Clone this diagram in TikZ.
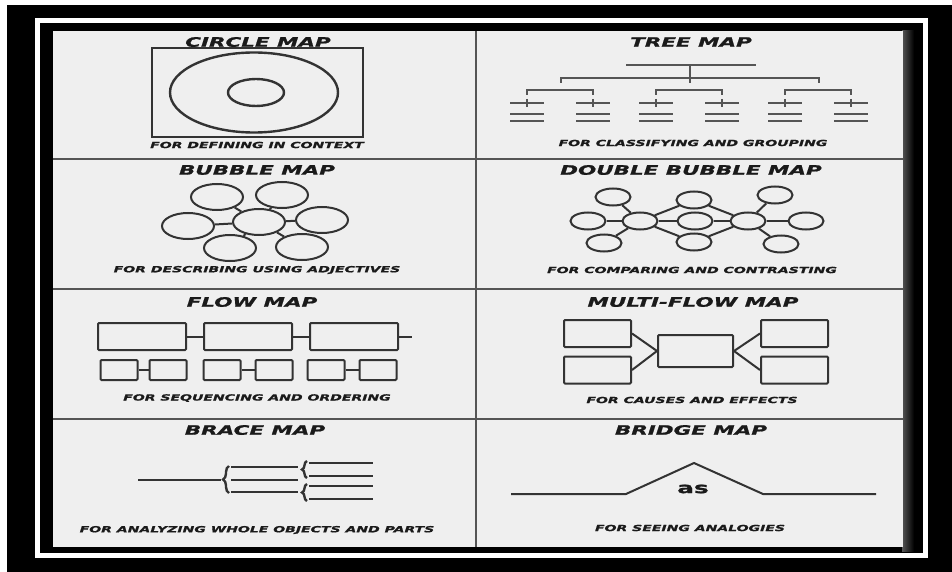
\documentclass[tikz,border=0pt]{standalone}
\usepackage{fontspec}
\usepackage{tikz}
\usetikzlibrary{positioning,shapes.geometric,decorations.pathreplacing}
\newfontfamily\mapfont{DejaVu Sans}[FakeStretch=1.65, FakeBold=1.2]
\definecolor{mapink}{HTML}{333333}
\definecolor{maptext}{HTML}{1A1A1A}
\definecolor{mappaper}{HTML}{EFEFEF}
\definecolor{mapgrid}{HTML}{555555}

\begin{document}
\begin{tikzpicture}[x=1pt, y=-1pt,
  maptitle/.style={font=\mapfont\bfseries\itshape\fontsize{13}{15}\selectfont, text=maptext, inner sep=0pt},
  mapnote/.style={font=\mapfont\bfseries\itshape\fontsize{8.5}{10}\selectfont, text=maptext, inner sep=0pt},
  mapline/.style={draw=mapink, line width=2pt},
  treeline/.style={draw=mapgrid, line width=1.5pt},
  bubble/.style={mapline, ellipse, inner sep=0pt, minimum width=52pt, minimum height=26pt},
  smallbubble/.style={mapline, ellipse, inner sep=0pt, minimum width=35pt, minimum height=17pt},
  flowbox/.style={mapline, rectangle, rounded corners=1pt, inner sep=0pt}]

  % Frame
  \useasboundingbox (0,0) rectangle (952,572);
  \fill[white] (0,0) rectangle (952,572);
  \fill[black] (7,5) rectangle (952,572);
  \draw[white, line width=5pt] (37,21) rectangle (925,555.5);
  \shade[left color=mapgrid, right color=black] (902,31) rectangle (914,551);
  \fill[mappaper] (53,31) rectangle (903,547);

  % Grid
  \draw[mapgrid, line width=2pt] (476,31) -- (476,547);
  \draw[mapgrid, line width=2pt] (53,159) -- (903,159);
  \draw[mapgrid, line width=2pt] (53,289) -- (903,289);
  \draw[mapgrid, line width=2pt] (53,419) -- (903,419);

  % Circle map
  \node[maptitle] (tcircle) at (258,42) {CIRCLE MAP};
  \node[mapline, rectangle, line width=2.4pt, minimum width=211pt, minimum height=89pt]
    (cbox) at (257.5,92.5) {};
  \node[mapline, ellipse, line width=2.4pt, minimum width=168pt, minimum height=80pt]
    (couter) at (254,92.5) {};
  \node[mapline, ellipse, line width=2.4pt, minimum width=56pt, minimum height=27pt]
    (cinner) at (256,92.5) {};
  \node[mapnote] (ncircle) at (257,145) {FOR DEFINING IN CONTEXT};

  % Tree map
  \node[maptitle] (ttree) at (691,42) {TREE MAP};
  \draw[treeline] (626,65) -- (756,65);
  \draw[treeline] (690,65) -- (690,83);
  \draw[treeline] (561,83) -- (561,78) -- (819,78) -- (819,83);
  \draw[treeline] (527,95) -- (527,90) -- (593,90) -- (593,95);
  \draw[treeline] (656,95) -- (656,90) -- (722,90) -- (722,95);
  \draw[treeline] (785,95) -- (785,90) -- (851,90) -- (851,95);
  \draw[treeline] (510,103) -- (544,103) (527,99) -- (527,107)
    (510,114) -- (544,114) (510,121) -- (544,121);
  \draw[treeline] (576,103) -- (610,103) (593,99) -- (593,107)
    (576,114) -- (610,114) (576,121) -- (610,121);
  \draw[treeline] (639,103) -- (673,103) (656,99) -- (656,107)
    (639,114) -- (673,114) (639,121) -- (673,121);
  \draw[treeline] (705,103) -- (739,103) (722,99) -- (722,107)
    (705,114) -- (739,114) (705,121) -- (739,121);
  \draw[treeline] (768,103) -- (802,103) (785,99) -- (785,107)
    (768,114) -- (802,114) (768,121) -- (802,121);
  \draw[treeline] (834,103) -- (868,103) (851,99) -- (851,107)
    (834,114) -- (868,114) (834,121) -- (868,121);
  \node[mapnote] (ntree) at (693,143) {FOR CLASSIFYING AND GROUPING};

  % Bubble map
  \node[maptitle] (tbubble) at (257,170) {BUBBLE MAP};
  \node[bubble] (bcore) at (259,222) {};
  \node[bubble] (bnw) at (217,197) {};
  \node[bubble] (bne) at (282,195) {};
  \node[bubble] (bw) at (188,226) {};
  \node[bubble] (be) at (322,220) {};
  \node[bubble] (bsw) at (230,248) {};
  \node[bubble] (bse) at (302,247) {};
  \draw[mapline] (bcore) -- (bnw);
  \draw[mapline] (bcore) -- (bne);
  \draw[mapline] (bcore) -- (bw);
  \draw[mapline] (bcore) -- (be);
  \draw[mapline] (bcore) -- (bsw);
  \draw[mapline] (bcore) -- (bse);
  \node[mapnote] (nbubble) at (257,270) {FOR DESCRIBING USING ADJECTIVES};

  % Double bubble map
  \node[maptitle] (tdouble) at (691,170) {DOUBLE BUBBLE MAP};
  \node[smallbubble] (dleft) at (640,221) {};
  \node[smallbubble] (dlt) at (613,197) {};
  \node[smallbubble] (dll) at (588,221) {};
  \node[smallbubble] (dlb) at (604,243) {};
  \node[smallbubble] (dmt) at (694,200) {};
  \node[smallbubble] (dmc) at (695,221) {};
  \node[smallbubble] (dmb) at (694,242) {};
  \node[smallbubble] (dright) at (748,221) {};
  \node[smallbubble] (drt) at (775,195) {};
  \node[smallbubble] (drr) at (806,221) {};
  \node[smallbubble] (drb) at (781,244) {};
  \draw[mapline] (dleft) -- (dlt);
  \draw[mapline] (dleft) -- (dll);
  \draw[mapline] (dleft) -- (dlb);
  \draw[mapline] (dleft) -- (dmt);
  \draw[mapline] (dleft) -- (dmc);
  \draw[mapline] (dleft) -- (dmb);
  \draw[mapline] (dright) -- (dmt);
  \draw[mapline] (dright) -- (dmc);
  \draw[mapline] (dright) -- (dmb);
  \draw[mapline] (dright) -- (drt);
  \draw[mapline] (dright) -- (drr);
  \draw[mapline] (dright) -- (drb);
  \node[mapnote] (ndouble) at (692,270) {FOR COMPARING AND CONTRASTING};

  % Flow map
  \node[maptitle] (tflow) at (252,302) {FLOW MAP};
  \node[flowbox, minimum width=88pt, minimum height=27pt] (fa) at (142,336.5) {};
  \node[flowbox, minimum width=88pt, minimum height=27pt] (fb) at (248,336.5) {};
  \node[flowbox, minimum width=88pt, minimum height=27pt] (fc) at (354,336.5) {};
  \coordinate (ftail) at (412,336.5);
  \draw[mapline] (fa) -- (fb);
  \draw[mapline] (fb) -- (fc);
  \draw[mapline] (fc) -- (ftail);
  \node[flowbox, minimum width=37pt, minimum height=20pt] (f1) at (119,370) {};
  \node[flowbox, minimum width=37pt, minimum height=20pt] (f2) at (168,370) {};
  \node[flowbox, minimum width=37pt, minimum height=20pt] (f3) at (222,370) {};
  \node[flowbox, minimum width=37pt, minimum height=20pt] (f4) at (274,370) {};
  \node[flowbox, minimum width=37pt, minimum height=20pt] (f5) at (326,370) {};
  \node[flowbox, minimum width=37pt, minimum height=20pt] (f6) at (378,370) {};
  \draw[mapline] (f1) -- (f2);
  \draw[mapline] (f3) -- (f4);
  \draw[mapline] (f5) -- (f6);
  \node[mapnote] (nflow) at (257,398) {FOR SEQUENCING AND ORDERING};

  % Multi-flow map
  \node[maptitle] (tmulti) at (693,302) {MULTI-FLOW MAP};
  \node[flowbox, minimum width=67pt, minimum height=27pt] (mlt) at (597.5,333.5) {};
  \node[flowbox, minimum width=67pt, minimum height=27pt] (mlb) at (597.5,370) {};
  \node[flowbox, minimum width=75pt, minimum height=32pt] (mevent) at (695.5,351) {};
  \node[flowbox, minimum width=67pt, minimum height=27pt] (mrt) at (794.5,333.5) {};
  \node[flowbox, minimum width=67pt, minimum height=27pt] (mrb) at (794.5,370) {};
  \draw[mapline] (mlt.east) -- (mevent.west);
  \draw[mapline] (mlb.east) -- (mevent.west);
  \draw[mapline] (mevent.east) -- (mrt.west);
  \draw[mapline] (mevent.east) -- (mrb.west);
  \node[mapnote] (nmulti) at (692,400) {FOR CAUSES AND EFFECTS};

  % Brace map
  \node[maptitle] (tbrace) at (255,430) {BRACE MAP};
  \draw[mapline] (138,480) -- (221,480);
  \draw[mapline, line width=2.4pt, decorate, decoration={brace, amplitude=6pt}]
    (229,493) -- (229,466);
  \draw[mapline] (231,467) -- (298,467) (231,479.5) -- (298,479.5)
    (231,492) -- (298,492);
  \draw[mapline, line width=2.4pt, decorate, decoration={brace, amplitude=5pt}]
    (307,478) -- (307,461);
  \draw[mapline, line width=2.4pt, decorate, decoration={brace, amplitude=5pt}]
    (307,501) -- (307,484);
  \draw[mapline] (309,463) -- (373,463) (309,476) -- (373,476)
    (309,486) -- (373,486) (309,499) -- (373,499);
  \node[mapnote] (nbrace) at (257,530) {FOR ANALYZING WHOLE OBJECTS AND PARTS};

  % Bridge map
  \node[maptitle] (tbridge) at (691,430) {BRIDGE MAP};
  \draw[mapline] (511,494) -- (626,494) -- (694,463) -- (763,494) -- (876,494);
  \node[font=\mapfont\bfseries\fontsize{15}{17}\selectfont, text=maptext, inner sep=0pt]
    (as) at (693,489) {as};
  \node[mapnote] (nbridge) at (690,528) {FOR SEEING ANALOGIES};
\end{tikzpicture}
\end{document}
